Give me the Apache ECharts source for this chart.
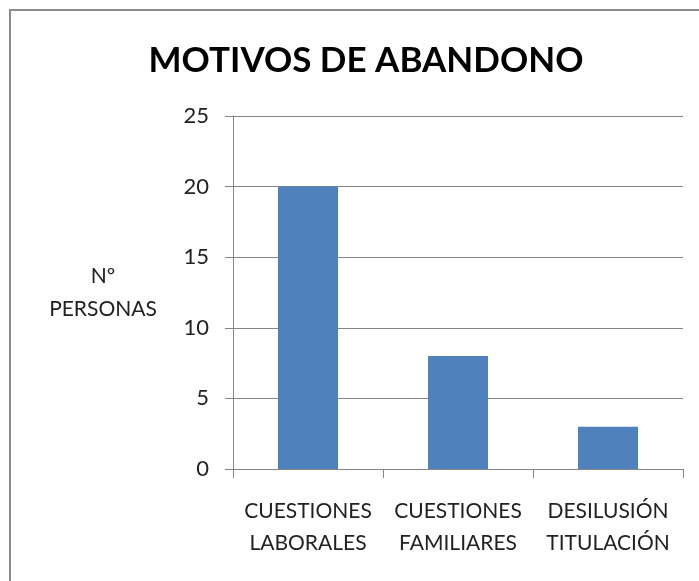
<!DOCTYPE html>
<html>
<head>
<meta charset="utf-8">
<script src="https://cdn.jsdelivr.net/npm/echarts@6/dist/echarts.min.js"></script>
<style>
html,body{margin:0;padding:0;background:#fff;}
#chart{width:699px;height:581px;}
</style>
</head>
<body>
<div id="chart"></div>
<script>
var categories = ['CUESTIONES\nLABORALES', 'CUESTIONES\nFAMILIARES', 'DESILUSIÓN\nTITULACIÓN'];
var personas = [20, 8, 3];
var yTicks = [0, 5, 10, 15, 20, 25];

var chart = echarts.init(document.getElementById('chart'));
var option = {
	animation: false,
	textStyle: { fontFamily: 'Lato' },
	title: {
		text: 'MOTIVOS DE ABANDONO',
		left: 361,
		top: 38,
		textAlign: 'center',
		textStyle: { fontFamily: 'Lato', fontWeight: 'bold', fontSize: 35, color: '#000' }
	},
	// marco del grafico
	graphic: [{
		type: 'rect',
		shape: { x: 10, y: 10, width: 800, height: 700 },
		style: { fill: 'none', stroke: '#8c8c8c', lineWidth: 2 }
	}],
	grid: { left: 233, right: 16, top: 116, bottom: 112, containLabel: false },
	xAxis: {
		type: 'category',
		data: categories,
		axisLine: { lineStyle: { color: '#868686', width: 1 } },
		axisTick: { show: true, length: 9, alignWithLabel: false, lineStyle: { color: '#868686' } },
		axisLabel: { color: '#222', fontSize: 21, lineHeight: 32, margin: 26, interval: 0 }
	},
	yAxis: {
		type: 'value',
		min: yTicks[0],
		max: yTicks[yTicks.length - 1],
		interval: 5,
		name: 'Nº\nPERSONAS',
		nameLocation: 'middle',
		nameRotate: 0,
		nameGap: 130,
		nameTextStyle: { color: '#222', fontSize: 21, lineHeight: 33, align: 'center', verticalAlign: 'middle' },
		axisLine: { show: true, lineStyle: { color: '#868686', width: 1 } },
		axisTick: { show: true, length: 8, lineStyle: { color: '#868686' } },
		axisLabel: { color: '#222', fontSize: 22, margin: 24 },
		splitLine: { lineStyle: { color: '#868686', width: 1 } }
	},
	series: [{
		type: 'bar',
		data: personas,
		barWidth: '40%',
		itemStyle: { color: '#4F81BD' }
	}]
};
chart.setOption(option);
</script>
</body>
</html>
